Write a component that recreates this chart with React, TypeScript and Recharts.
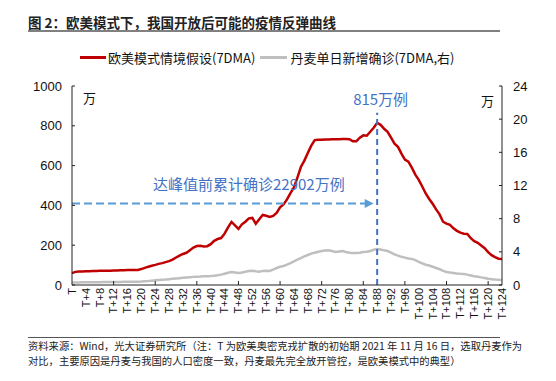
import React from "react";
import {
  LineChart,
  Line,
  XAxis,
  YAxis,
  ReferenceLine,
  ReferenceDot,
} from "recharts";

// 横轴：T 为 2021-11-16
const days = Array.from({ length: 125 }, (_, i) => (i === 0 ? "T" : "T+" + i));

// 欧美模式情境假设(7DMA)，单位：万
const euroUS = [
  60, 66, 68, 68, 69, 69, 70, 70, 71, 71, 72, 72, 73, 73, 74, 74, 75, 75, 76, 76,
  80, 86, 92, 97, 101, 106, 110, 115, 120, 128, 138, 148, 156, 162, 175, 188, 196, 197, 193, 195,
  205, 222, 231, 236, 258, 290, 317, 300, 282, 305, 318, 335, 337, 308, 330, 352, 348, 342, 347, 362,
  390, 405, 430, 462, 490, 540, 593, 625, 663, 700, 728, 730, 730, 731, 731, 732, 732, 733, 734, 734,
  733, 722, 722, 740, 752, 750, 770, 790, 815, 805, 785, 770, 740, 710, 694, 660, 630, 620, 590, 555,
  528, 495, 460, 432, 408, 380, 355, 318, 308, 302, 285, 272, 263, 258, 256, 235, 220, 212, 198, 185,
  165, 150, 140, 132, 131,
];

// 丹麦单日新增确诊(7DMA,右)，单位：万
const denmark = [
  0.3, 0.3, 0.31, 0.32, 0.32, 0.33, 0.33, 0.34, 0.34, 0.35, 0.35,
  0.36, 0.36, 0.37, 0.37, 0.38, 0.38, 0.39, 0.4, 0.4, 0.42,
  0.45, 0.48, 0.52, 0.56, 0.6, 0.63, 0.66, 0.7, 0.74, 0.78,
  0.82, 0.86, 0.9, 0.94, 0.98, 1.0, 1.02, 1.05, 1.05, 1.08,
  1.12, 1.18, 1.25, 1.35, 1.48, 1.57, 1.52, 1.45, 1.5, 1.6,
  1.68, 1.72, 1.65, 1.6, 1.7, 1.72, 1.7, 1.85, 2.05, 2.2,
  2.3, 2.45, 2.65, 2.85, 3.05, 3.25, 3.45, 3.62, 3.78, 3.9,
  4.0, 4.1, 4.15, 4.2, 4.1, 3.98, 4.05, 4.1, 3.98, 3.88,
  3.85, 3.86, 3.9, 3.98, 4.0, 4.1, 4.25, 4.34, 4.28, 4.18,
  4.1, 3.9, 3.7, 3.55, 3.4, 3.3, 3.2, 3.15, 3.0, 2.8,
  2.62, 2.45, 2.35, 2.2, 2.05, 1.9, 1.7, 1.57, 1.5, 1.45,
  1.4, 1.36, 1.33, 1.25, 1.15, 1.05, 1.0, 0.92, 0.85, 0.75,
  0.7, 0.65, 0.62, 0.6,
];

const leftTicks = [0, 200, 400, 600, 800, 1000];
const rightTicks = [0, 4, 8, 12, 16, 20, 24];

const peakDay = "T+88";
const peakLabel = "815万例";
const cumLabel = "达峰值前累计确诊22902万例";
const cumLevel = 410;

const data = days.map((d, i) => ({ day: d, euroUS: euroUS[i], denmark: denmark[i] }));

const CJK = '"Noto Sans CJK SC", sans-serif';
const NUM = '"Liberation Sans", "Noto Sans CJK SC", sans-serif';

const XTick = (props: any) => {
  const { x, y, payload } = props;
  const i = days.indexOf(payload.value);
  return (
    <g>
      {i > 0 && i % 12 === 0 && (
        <line x1={x} x2={x} y1={y - 3} y2={y - 7} stroke="#222" strokeWidth={1} />
      )}
      <text
        transform={`translate(${x},${y}) rotate(-90)`}
        textAnchor="end"
        dy="0.35em"
        fontSize={11}
        fontFamily={NUM}
        fill="#111"
      >
        {payload.value}
      </text>
    </g>
  );
};

const LeftTick = (props: any) => {
  const { x, y, payload } = props;
  return (
    <g>
      <line x1={x + 10} x2={x + 13} y1={y} y2={y} stroke="#222" />
      <text x={x} y={y} dy="0.35em" textAnchor="end" fontSize={13} fontFamily={NUM} fill="#111">
        {payload.value}
      </text>
    </g>
  );
};

const RightTick = (props: any) => {
  const { x, y, payload } = props;
  return (
    <g>
      <line x1={x - 11} x2={x - 14} y1={y} y2={y} stroke="#222" />
      <text x={x} y={y} dy="0.35em" textAnchor="start" fontSize={13} fontFamily={NUM} fill="#111">
        {payload.value}
      </text>
    </g>
  );
};

const Arrow = (props: any) => {
  const { cx, cy } = props;
  return <path d={`M${cx},${cy} L${cx - 9},${cy - 4.5} L${cx - 9},${cy + 4.5} Z`} fill="#5b9bd5" />;
};

const makeText = (txt: string) => (props: any) => {
  const { cx, cy } = props;
  return (
    <text x={cx} y={cy} dy="0.35em" textAnchor="middle" fontSize={15} fontFamily={CJK} fill="#4472c4">
      {txt}
    </text>
  );
};

export default function App() {
  return (
    <div style={{ position: "absolute", left: 0, top: 0, width: 556, height: 381, background: "#fff", fontFamily: CJK }}>
      <div style={{ position: "absolute", left: 28, top: 12, fontSize: 13.5, fontWeight: 700, color: "#222", whiteSpace: "nowrap" }}>
        图 2：欧美模式下，我国开放后可能的疫情反弹曲线
      </div>
      <div style={{ position: "absolute", left: 28, top: 30, width: 472, height: 2, background: "#808080" }} />

      {/* 图例 */}
      <div style={{ position: "absolute", left: 80, top: 48, fontSize: 13, color: "#111", whiteSpace: "nowrap", display: "flex", alignItems: "center" }}>
        <span style={{ display: "inline-block", width: 26, height: 3, background: "#c00000", marginRight: 2 }} />
        <span>欧美模式情境假设(7DMA)</span>
        <span style={{ display: "inline-block", width: 27, height: 3, background: "#bfbfbf", marginLeft: 5, marginRight: 3 }} />
        <span>丹麦单日新增确诊(7DMA,右)</span>
      </div>

      <div style={{ position: "absolute", left: 83, top: 88, fontSize: 13, color: "#111" }}>万</div>
      <div style={{ position: "absolute", left: 481, top: 91, fontSize: 13, color: "#111" }}>万</div>

      <div style={{ position: "absolute", left: 0, top: 0 }}>
        <LineChart width={556} height={330} data={data} margin={{ top: 86, right: 0, left: 0, bottom: 0 }}>
          <XAxis
            dataKey="day"
            interval={3}
            height={45}
            tickSize={0}
            tickMargin={3}
            tick={<XTick />}
            axisLine={{ stroke: "#222" }}
            tickLine={false}
          />
          <YAxis
            yAxisId="left"
            width={72}
            domain={[0, 1000]}
            ticks={leftTicks}
            tickSize={0}
            tickMargin={10}
            tick={<LeftTick />}
            axisLine={{ stroke: "#222" }}
            tickLine={false}
          />
          <YAxis
            yAxisId="right"
            orientation="right"
            width={54}
            domain={[0, 24]}
            ticks={rightTicks}
            tickSize={0}
            tickMargin={11}
            tick={<RightTick />}
            axisLine={{ stroke: "#222" }}
            tickLine={false}
          />
          <Line
            yAxisId="right"
            dataKey="denmark"
            stroke="#bfbfbf"
            strokeWidth={2.5}
            dot={false}
            isAnimationActive={false}
          />
          <Line
            yAxisId="left"
            dataKey="euroUS"
            stroke="#c00000"
            strokeWidth={2.5}
            dot={false}
            isAnimationActive={false}
          />
          <ReferenceLine
            yAxisId="left"
            segment={[{ x: "T", y: cumLevel }, { x: "T+85", y: cumLevel }]}
            stroke="#5b9bd5"
            strokeWidth={2}
            strokeDasharray="8 4"
          />
          <ReferenceDot yAxisId="left" x="T+87" y={cumLevel} r={0} shape={<Arrow />} />
          <ReferenceLine
            yAxisId="left"
            segment={[{ x: peakDay, y: 0 }, { x: peakDay, y: 866 }]}
            stroke="#4472c4"
            strokeWidth={2}
            strokeDasharray="6 4"
          />
          <ReferenceDot yAxisId="left" x="T+89" y={930} r={0} shape={makeText(peakLabel)} />
          <ReferenceDot yAxisId="left" x="T+51" y={503} r={0} shape={makeText(cumLabel)} />
        </LineChart>
      </div>

      <div style={{ position: "absolute", left: 28, top: 337, width: 472, height: 1, background: "#555" }} />
      <div style={{ position: "absolute", left: 28, top: 338, fontSize: 10.3, lineHeight: "15px", color: "#222", whiteSpace: "nowrap" }}>
        资料来源：Wind，光大证券研究所（注：T 为欧美奥密克戎扩散的初始期 2021 年 11 月 16 日，选取丹麦作为
        <br />
        对比，主要原因是丹麦与我国的人口密度一致，丹麦最先完全放开管控，是欧美模式中的典型）
      </div>
    </div>
  );
}
